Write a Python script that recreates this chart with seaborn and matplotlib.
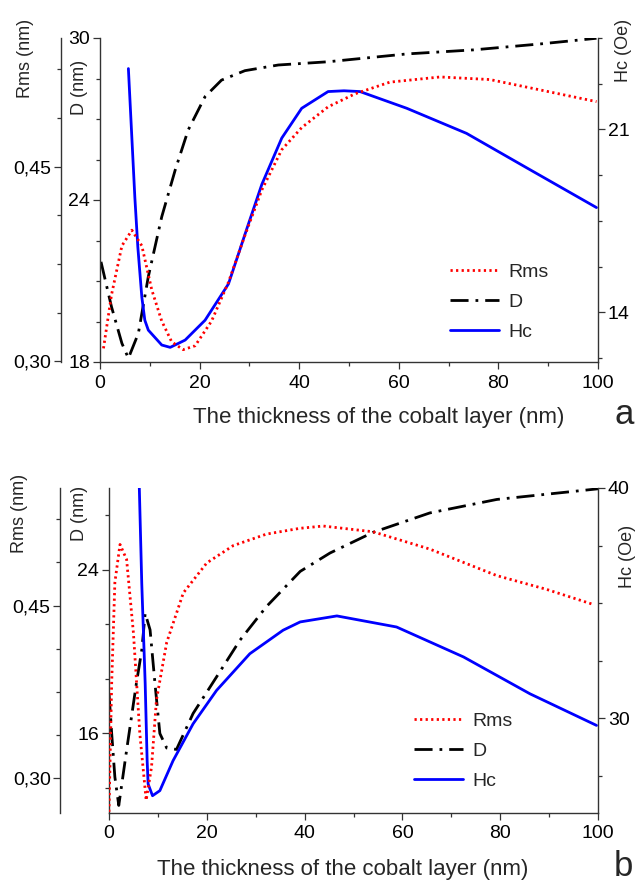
import seaborn as sns
from matplotlib import pyplot as plt
from matplotlib.ticker import MultipleLocator, FuncFormatter

# ---- panel a ----
xa_rms = [0.7, 2.3, 4.4, 6.4, 8.4, 10.4, 12.4, 14.4, 16.7, 19.1, 22.4, 25.8, 29.1, 32.5,
          36.5, 40.5, 45.8, 51.2, 58.2, 68.3, 78.3, 88.4, 99.7]
rms_a = [0.310, 0.351, 0.389, 0.401, 0.389, 0.355, 0.331, 0.315, 0.309, 0.312, 0.331, 0.361,
         0.397, 0.432, 0.463, 0.480, 0.496, 0.506, 0.515, 0.519, 0.517, 0.509, 0.500]
xa_d = [0.2, 2.3, 4.4, 5.7, 7.7, 9.7, 12.4, 15.1, 17.7, 21.1, 24.4, 29.1, 35.8, 45.8,
        61.6, 75.0, 88.4, 99.7]
d_a = [21.71, 20.05, 18.69, 18.14, 19.06, 21.16, 23.38, 25.11, 26.59, 27.83, 28.44, 28.79,
       29.00, 29.12, 29.41, 29.56, 29.78, 29.99]
xa_hc = [5.7, 7.0, 7.6, 8.4, 9.0, 9.7, 12.4, 14.1, 17.1, 21.1, 25.8, 29.8, 32.5, 36.5, 40.5,
         45.8, 49.0, 52.2, 61.6, 73.6, 85.7, 99.7]
hc_a = [23.33, 18.39, 16.49, 14.58, 13.70, 13.32, 12.75, 12.66, 12.94, 13.70, 15.09, 17.38,
        18.90, 20.67, 21.81, 22.45, 22.48, 22.45, 21.81, 20.85, 19.53, 18.01]

# ---- panel b ----
xb_rms = [0.0, 0.55, 1.2, 2.25, 3.6, 5.0, 6.3, 7.6, 8.7, 9.7, 11.8, 15.2, 20.0, 25.4, 32.2,
          39.0, 43.8, 54.0, 65.6, 79.3, 89.5, 99.0]
rms_b = [0.271, 0.383, 0.470, 0.503, 0.490, 0.426, 0.339, 0.281, 0.310, 0.368, 0.418, 0.461,
         0.487, 0.502, 0.512, 0.517, 0.519, 0.514, 0.499, 0.476, 0.464, 0.451]
xb_d = [0.0, 0.55, 1.2, 2.0, 3.6, 5.6, 6.7, 7.4, 8.4, 9.4, 10.4, 11.8, 13.8, 17.2, 22.0,
        26.8, 32.2, 39.1, 45.2, 54.0, 65.6, 79.3, 100.0]
d_b = [17.95, 15.99, 13.86, 12.47, 15.17, 18.44, 20.07, 21.87, 21.06, 18.44, 15.99, 15.28,
       15.21, 16.97, 18.76, 20.56, 22.20, 23.92, 24.82, 25.83, 26.78, 27.44, 27.96]
xb_hc = [6.2, 6.7, 7.4, 7.8, 8.0, 8.9, 10.4, 13.1, 17.2, 22.0, 28.8, 35.6, 39.1, 46.6, 58.8,
         72.5, 86.1, 99.7]
hc_b = [40.0, 35.86, 31.51, 28.17, 27.16, 26.65, 26.87, 28.17, 29.77, 31.22, 32.81, 33.83,
        34.19, 34.45, 33.97, 32.67, 31.07, 29.70]

series_names = ['Rms', 'D', 'Hc']
xlabel = 'The thickness of the cobalt layer (nm)'

sns.set_style('ticks')
plt.rcParams['font.family'] = ['Liberation Sans', 'DejaVu Sans']

SPINE = '#333333'
DASHDOT = (0, (6.5, 2.5, 1, 2.5))


def comma(v, pos):
    return f'{v:.2f}'.replace('.', ',')


def ticks(a, side, major, minor, fmt=None):
    a.yaxis.set_major_locator(MultipleLocator(major))
    a.yaxis.set_minor_locator(MultipleLocator(minor))
    if fmt is not None:
        a.yaxis.set_major_formatter(FuncFormatter(fmt))
    a.tick_params(axis='y', which='both', direction='out', colors=SPINE, labelcolor='black',
                  labelsize=14, left=(side == 'left'), right=(side == 'right'),
                  labelleft=(side == 'left'), labelright=(side == 'right'))
    a.tick_params(axis='y', which='major', length=5, width=0.9, pad=2)
    a.tick_params(axis='y', which='minor', length=3, width=0.9)


def draw_panel(fig, rect, rms_off, xr, r, xd, d, xh, h, rlim, dlim, hlim, dstep, hstep, leg_at):
    ax = fig.add_axes(rect)
    ax_h = ax.twinx()
    ax_r = ax.twinx()

    sns.lineplot(x=xd, y=d, ax=ax, color='black', lw=2, linestyle=DASHDOT,
                 label=series_names[1], legend=False)
    sns.lineplot(x=xh, y=h, ax=ax_h, color='#0000ff', lw=2, label=series_names[2], legend=False)
    sns.lineplot(x=xr, y=r, ax=ax_r, color='#ff0000', lw=2, linestyle=(0, (0.8, 1.2)),
                 label=series_names[0], legend=False)

    ax.set_xlim(0, 100)
    ax.set_ylim(*dlim)
    ax_h.set_ylim(*hlim)
    ax_r.set_ylim(*rlim)

    for a in (ax, ax_h, ax_r):
        for s in a.spines.values():
            s.set_visible(False)
            s.set_color(SPINE)
            s.set_linewidth(1)
        a.set_ylabel('')
    ax.spines['left'].set_visible(True)
    ax.spines['bottom'].set_visible(True)
    ax_h.spines['right'].set_visible(True)
    ax_r.spines['left'].set_visible(True)
    ax_r.spines['left'].set_position(('outward', rms_off))

    ax.xaxis.set_major_locator(MultipleLocator(20))
    ax.xaxis.set_minor_locator(MultipleLocator(10))
    ax.tick_params(axis='x', which='both', direction='out', colors=SPINE, labelcolor='black',
                   labelsize=14, pad=4)
    ax.tick_params(axis='x', which='major', length=5, width=0.9)
    ax.tick_params(axis='x', which='minor', length=3, width=0.9)

    ticks(ax, 'left', dstep, dstep / (3 if dstep == 8 else 4), lambda v, p: f'{v:.0f}')
    ticks(ax_h, 'right', hstep, hstep / 4, lambda v, p: f'{v:.0f}')
    ticks(ax_r, 'left', 0.15, 0.0375, comma)
    for a in (ax_h, ax_r):
        a.tick_params(axis='x', which='both', bottom=False, labelbottom=False)

    handles = []
    for a in (ax_r, ax, ax_h):
        hs, ls = a.get_legend_handles_labels()
        handles += hs
    fig.legend(handles, series_names, loc='upper left', bbox_to_anchor=leg_at,
               frameon=False, fontsize=14, handlelength=2.5, handletextpad=0.5,
               labelspacing=0.65, borderpad=0, borderaxespad=0)
    return ax


W, H = 636, 882
fig = plt.figure(figsize=(6.36, 8.82), dpi=100)

draw_panel(fig, [100 / W, 1 - 362 / H, 498 / W, 324 / H], 28,
           xa_rms, rms_a, xa_d, d_a, xa_hc, hc_a,
           (0.2995, 0.549), (18, 30), (12.1, 24.5), 6, 7, (450 / W, 1 - 263 / H))
draw_panel(fig, [109 / W, 1 - 813 / H, 489 / W, 325 / H], 35,
           xb_rms, rms_b, xb_d, d_b, xb_hc, hc_b,
           (0.27, 0.552), (12.1, 28), (25.9, 40), 8, 10, (414 / W, 1 - 712 / H))

# axis titles, placed like the original figure
lab = dict(rotation=90, ha='center', va='center', fontsize=13)
fig.text(25 / W, 1 - 58 / H, 'Rms (nm)', **lab)
fig.text(80 / W, 1 - 87 / H, 'D (nm)', **lab)
fig.text(623 / W, 1 - 50 / H, 'Hc (Oe)', **lab)
fig.text(20 / W, 1 - 513 / H, 'Rms (nm)', **lab)
fig.text(80 / W, 1 - 513 / H, 'D (nm)', **lab)
fig.text(627 / W, 1 - 556 / H, 'Hc (Oe)', **lab)

fig.text(379 / W, 1 - 418 / H, xlabel, ha='center', va='center', fontsize=16)
fig.text(343 / W, 1 - 869 / H, xlabel, ha='center', va='center', fontsize=16)

fig.text(614 / W, 1 - 424 / H, 'a', ha='left', va='baseline', fontsize=25)
fig.text(614 / W, 1 - 876 / H, 'b', ha='left', va='baseline', fontsize=25)

fig.savefig('out.png', dpi=100)
